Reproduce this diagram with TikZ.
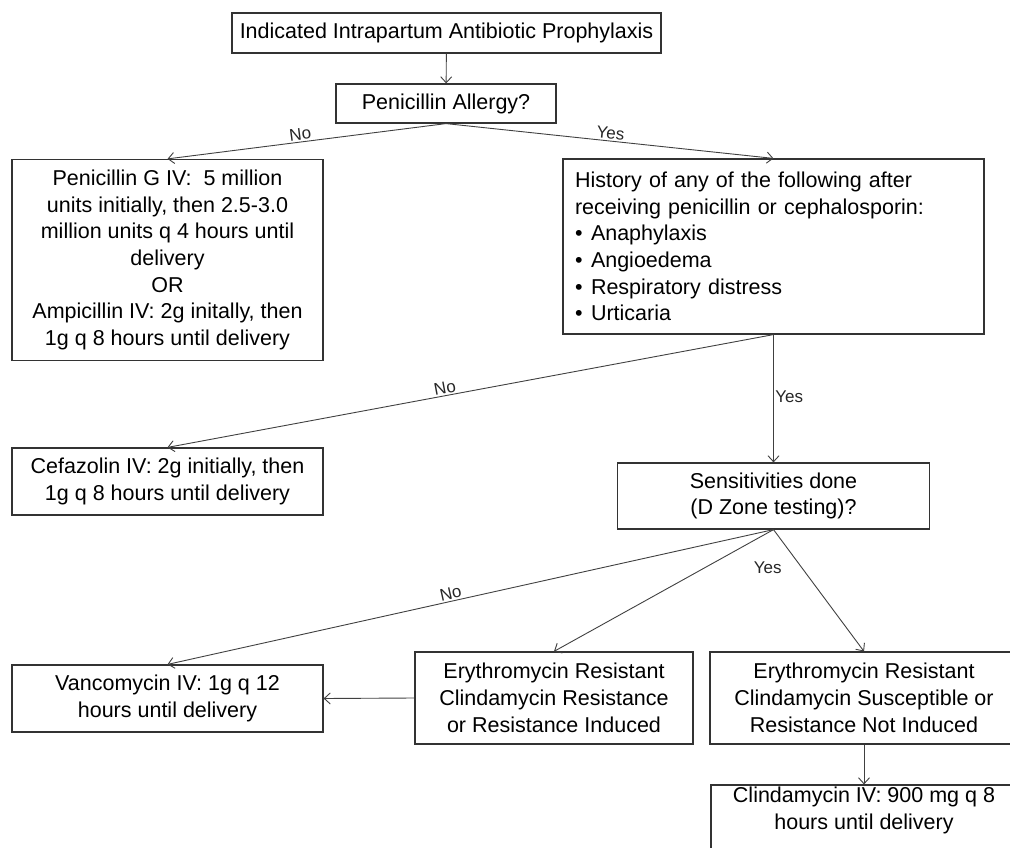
\documentclass[tikz,border=0pt]{standalone}
\usepackage{fontspec}
\setmainfont{Liberation Sans}
\usetikzlibrary{arrows.meta}

\newcommand{\hbul}{\makebox[16pt][l]{\textbullet}}

\tikzset{
  box/.style={draw=black!80, line width=1.2pt, align=center, inner sep=0pt,
    font=\fontsize{21.5}{26.7}\selectfont},
  arr/.style={draw=black!75, line width=0.9pt, -{Straight Barb[length=6pt,width=11pt]}},
  lbl/.style={font=\fontsize{17}{20}\selectfont, text=black!85, inner sep=1.5pt},
}

\begin{document}
\begin{tikzpicture}[x=1pt, y=-1pt] % one unit = one pixel, y downwards
  \useasboundingbox (0,0) rectangle (1010,848);

  % Questions
  \node[box, minimum width=429pt, minimum height=40pt] (iap) at (446.5,33)
    {Indicated Intrapartum Antibiotic Prophylaxis};
  \node[box, minimum width=220pt, minimum height=39pt] (allergy) at (446,103.5)
    {Penicillin Allergy?};
  \node[box, align=left, text width=397pt, inner xsep=12pt, minimum height=175pt] (hist) at (773.5,246.5)
    {History of any of the following after\\
     receiving penicillin or cephalosporin:\\
     \hbul Anaphylaxis\\
     \hbul Angioedema\\
     \hbul Respiratory distress\\
     \hbul Urticaria};
  \node[box, minimum width=312pt, minimum height=66pt] (sens) at (773.5,496)
    {Sensitivities done\\(D Zone testing)?};

  % Treatments
  \node[box, minimum width=311pt, minimum height=201pt] (peng) at (167.5,260)
    {Penicillin G IV:\ \ 5 million\\
     units initially, then 2.5-3.0\\
     million units q 4 hours until\\
     delivery\\
     OR\\
     Ampicillin IV: 2g initally, then\\
     1g q 8 hours until delivery};
  \node[box, minimum width=311pt, minimum height=67pt] (cefa) at (167.5,481.5)
    {Cefazolin IV: 2g initially, then\\1g q 8 hours until delivery};
  \node[box, minimum width=311pt, minimum height=67pt] (vanc) at (167.5,698.5)
    {Vancomycin IV: 1g q 12\\hours until delivery};
  \node[box, minimum width=278pt, minimum height=92pt] (ery1) at (554,698)
    {Erythromycin Resistant\\Clindamycin Resistance\\or Resistance Induced};
  \node[box, minimum width=308pt, minimum height=92pt] (ery2) at (864,698)
    {Erythromycin Resistant\\Clindamycin Susceptible or\\Resistance Not Induced};
  \node[box, minimum width=306pt, minimum height=67pt] (clinda) at (864,818.5)
    {Clindamycin IV: 900 mg q 8\\hours until delivery\\[-14pt]\strut};

  % Connectors
  \draw[arr] (iap) -- (allergy);
  \draw[arr] (allergy.south) -- node[lbl, above, sloped, pos=0.52]{No} (peng.north);
  \draw[arr] (allergy.south) -- node[lbl, above, sloped, pos=0.5]{Yes} (hist.north);
  \draw[arr] (hist.south) -- node[lbl, above, sloped, pos=0.54]{No} (cefa.north);
  \draw[arr] (hist.south) -- node[lbl, right, pos=0.49]{Yes} (sens.north);
  \draw[arr] (sens.south) -- node[lbl, above, sloped, pos=0.53]{No} (vanc.north);
  \draw[arr] (sens.south) -- (ery1.north);
  \draw[arr] (sens.south) -- node[lbl, left=18pt, pos=0.31]{Yes} (ery2.north);
  \draw[arr] (ery1.west) -- (vanc.east);
  \draw[arr] (ery2.south) -- (clinda.north);
\end{tikzpicture}
\end{document}
